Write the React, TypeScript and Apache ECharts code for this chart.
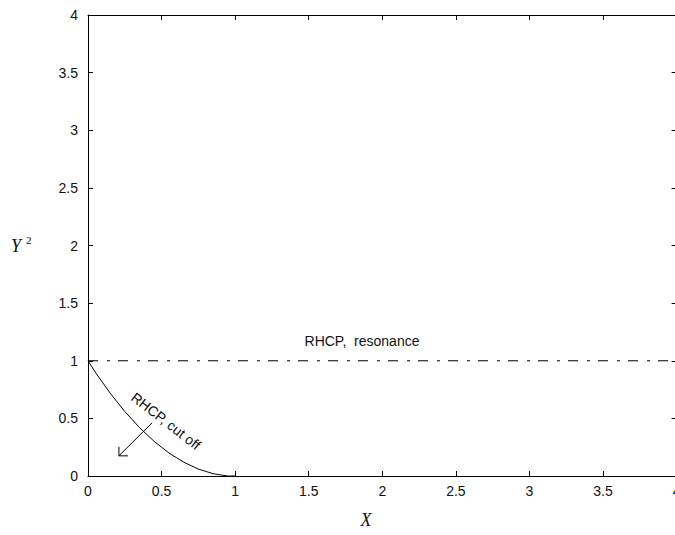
import React, { useEffect, useRef } from "react";
import * as echarts from "echarts";

// Data
const cutoffX = [0, 0.05, 0.1, 0.15, 0.2, 0.25, 0.3, 0.35, 0.4, 0.45, 0.5, 0.55, 0.6, 0.65, 0.7, 0.75, 0.8, 0.85, 0.9, 0.95, 1.0];
const cutoffY2 = [1, 0.9, 0.81, 0.72, 0.64, 0.56, 0.49, 0.42, 0.36, 0.3, 0.25, 0.2, 0.16, 0.12, 0.09, 0.06, 0.04, 0.02, 0.01, 0.0, 0];
const resonanceX = [0, 4];
const resonanceY2 = [1, 1];

const arrowFrom = [0.435, 0.46];
const arrowTo = [0.21, 0.175];
const cutoffLabelAt = [0.53, 0.477];
const resonanceLabelAt = [1.862, 1.171];

const cutoffLabel = "RHCP, cut off";
const resonanceLabel = "RHCP,  resonance";
const xName = "X";
const yName = "Y";
const yNameSup = "2";

const axisMin = 0;
const axisMax = 4;
const axisStep = 0.5;

const sansFont = "'Liberation Sans', Arial, Helvetica, sans-serif";
const serifFont = "'Liberation Serif', 'Times New Roman', serif";

export default function App() {
  const ref = useRef<HTMLDivElement>(null);

  useEffect(() => {
    if (!ref.current) return;
    const chart = echarts.init(ref.current, null, { renderer: "svg" });

    const baseX = {
      type: "value" as const,
      min: axisMin,
      max: axisMax,
      interval: axisStep,
      splitLine: { show: false },
    };
    const lineCol = "#000";

    chart.setOption({
      animation: false,
      backgroundColor: "#fff",
      grid: {
        left: 88,
        top: 15,
        width: 588.6,
        height: 461,
        containLabel: false,
        outerBoundsMode: "none",
      },
      xAxis: [
        {
          ...baseX,
          position: "bottom",
          axisLine: { show: true, onZero: false, lineStyle: { color: lineCol, width: 1 } },
          axisTick: { show: true, inside: true, length: 5, lineStyle: { color: lineCol } },
          axisLabel: {
            show: true,
            color: "#111",
            fontSize: 14,
            fontFamily: sansFont,
            margin: 8,
            showMinLabel: true,
            showMaxLabel: true,
          },
        },
        {
          ...baseX,
          position: "top",
          axisLine: { show: true, onZero: false, lineStyle: { color: lineCol, width: 1 } },
          axisTick: { show: true, inside: true, length: 5, lineStyle: { color: lineCol } },
          axisLabel: { show: false },
        },
      ],
      yAxis: [
        {
          ...baseX,
          position: "left",
          axisLine: { show: true, onZero: false, lineStyle: { color: lineCol, width: 1 } },
          axisTick: { show: true, inside: true, length: 5, lineStyle: { color: lineCol } },
          axisLabel: {
            show: true,
            color: "#111",
            fontSize: 14,
            fontFamily: sansFont,
            margin: 10,
            showMinLabel: true,
            showMaxLabel: true,
          },
        },
        {
          ...baseX,
          position: "right",
          axisLine: { show: true, onZero: false, lineStyle: { color: lineCol, width: 1 } },
          axisTick: { show: true, inside: true, length: 5, lineStyle: { color: lineCol } },
          axisLabel: { show: false },
        },
      ],
      series: [
        {
          type: "line",
          xAxisIndex: 0,
          yAxisIndex: 0,
          data: cutoffX.map((x, i) => [x, cutoffY2[i]]),
          showSymbol: false,
          smooth: false,
          lineStyle: { color: "#000", width: 1 },
          clip: false,
        },
        {
          type: "line",
          xAxisIndex: 0,
          yAxisIndex: 0,
          data: resonanceX.map((x, i) => [x, resonanceY2[i]]),
          showSymbol: false,
          lineStyle: { color: "#000", width: 1.2, type: [10, 9, 3, 8] },
        },
      ],
    });

    const px = (p: number[]) => chart.convertToPixel({ gridIndex: 0 }, p) as number[];
    const a0 = px(arrowFrom);
    const a1 = px(arrowTo);
    const ang = Math.atan2(a0[1] - a1[1], a0[0] - a1[0]);
    const headLen = 9;
    const spread = Math.PI / 4;
    const h1 = [a1[0] + headLen * Math.cos(ang - spread), a1[1] + headLen * Math.sin(ang - spread)];
    const h2 = [a1[0] + headLen * Math.cos(ang + spread), a1[1] + headLen * Math.sin(ang + spread)];
    const cl = px(cutoffLabelAt);
    const rl = px(resonanceLabelAt);

    chart.setOption({
      graphic: [
        {
          type: "line",
          shape: { x1: a0[0], y1: a0[1], x2: a1[0], y2: a1[1] },
          style: { stroke: "#000", lineWidth: 1 },
        },
        {
          type: "polyline",
          shape: { points: [h1, a1, h2] },
          style: { stroke: "#000", lineWidth: 1, fill: null },
        },
        {
          type: "text",
          x: cl[0],
          y: cl[1],
          rotation: -0.66,
          style: {
            text: cutoffLabel,
            fontSize: 14,
            fontFamily: sansFont,
            fill: "#111",
            align: "center",
            verticalAlign: "middle",
          },
        },
        {
          type: "text",
          x: rl[0],
          y: rl[1],
          style: {
            text: resonanceLabel,
            fontSize: 14,
            fontFamily: sansFont,
            fill: "#111",
            align: "center",
            verticalAlign: "middle",
          },
        },
        {
          type: "text",
          x: 366,
          y: 520,
          style: {
            text: xName,
            fontSize: 18,
            fontStyle: "italic",
            fontFamily: serifFont,
            fill: "#111",
            align: "center",
            verticalAlign: "middle",
          },
        },
        {
          type: "text",
          x: 11,
          y: 246,
          style: {
            text: yName,
            fontSize: 18,
            fontStyle: "italic",
            fontFamily: serifFont,
            fill: "#111",
            align: "left",
            verticalAlign: "middle",
          },
        },
        {
          type: "text",
          x: 26,
          y: 240,
          style: {
            text: yNameSup,
            fontSize: 11,
            fontFamily: serifFont,
            fill: "#111",
            align: "left",
            verticalAlign: "middle",
          },
        },
      ],
    });

    return () => chart.dispose();
  }, []);

  return (
    <div
      ref={ref}
      style={{ position: "fixed", left: 0, top: 0, width: 675, height: 535, background: "#fff" }}
    />
  );
}
